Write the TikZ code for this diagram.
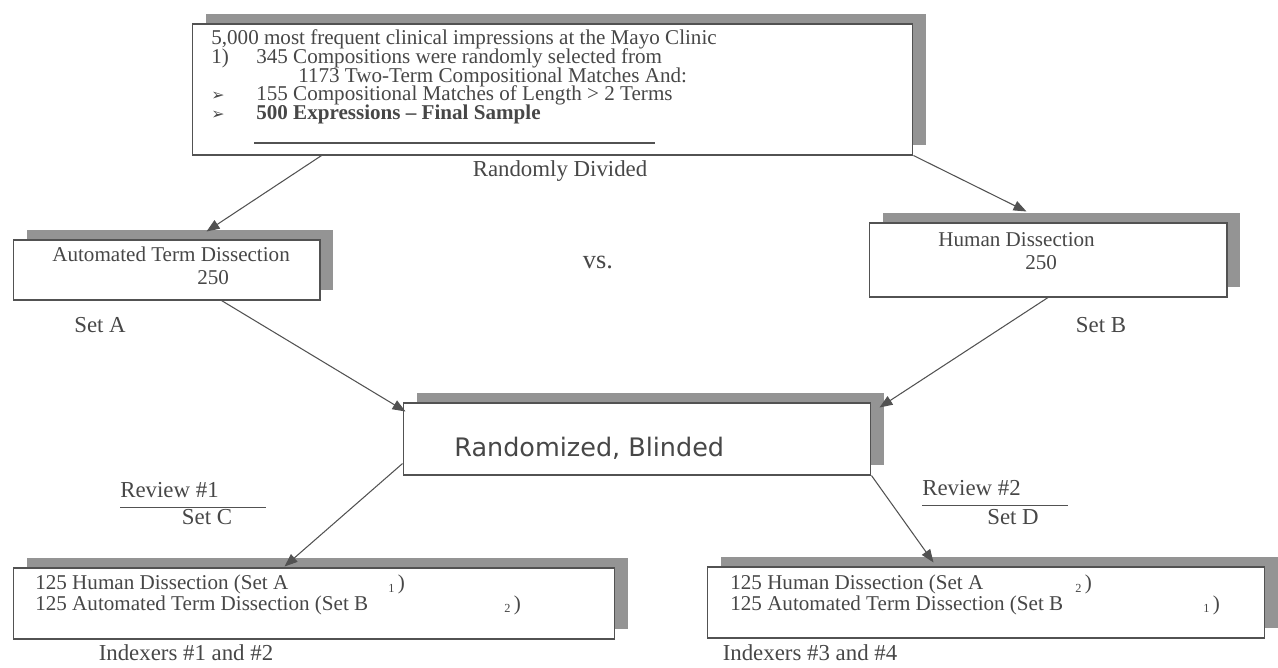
\documentclass[tikz,border=0pt]{standalone}
\usepackage{fontspec}
\setmainfont{Liberation Serif}
\newfontfamily\dingfont{DejaVu Sans}
\newfontfamily\boxsans{DejaVu Sans}
\usetikzlibrary{shadows,arrows.meta,calc}

\newcommand{\setidx}[1]{{\fontsize{7}{7}\selectfont\raisebox{-1.5pt}{#1}}\,}

\begin{document}
\begin{tikzpicture}[x=0.02cm,y=-0.02cm,
    panel/.style={draw=black!68, line width=0.6pt, fill=white, inner sep=0pt,
      drop shadow={shadow xshift=0.27cm, shadow yshift=0.2cm, fill=black!42, opacity=1}},
    txt/.style={text=black!72, inner sep=0pt, font={\fontsize{12}{13}\selectfont}},
    lbl/.style={text=black!72, inner sep=0pt, font={\fontsize{13}{14}\selectfont}},
    rule/.style={draw=black!68, line width=0.6pt},
    link/.style={draw=black!68, line width=0.6pt, -{Triangle[length=0.26cm,width=0.2cm]}}]
  \useasboundingbox (0,0) rectangle (1278,667);

  \node[panel, minimum width=14.42cm, minimum height=2.62cm] (sample) at (552.5,89.5) {};
  \node[panel, minimum width=6.14cm, minimum height=1.2cm] (autoset) at (166.5,270) {};
  \node[panel, minimum width=7.16cm, minimum height=1.48cm] (humanset) at (1048,260) {};
  \node[panel, minimum width=9.36cm, minimum height=1.44cm] (blind) at (637,439) {};
  \node[panel, minimum width=12.04cm, minimum height=1.42cm] (reviewc) at (314,603.5) {};
  \node[panel, minimum width=11.16cm, minimum height=1.42cm] (reviewd) at (986,602.5) {};

  \node[txt, anchor=west, align=left, font={\fontsize{12}{10.6}\selectfont\lineskiplimit=-5pt}] (sampletext) at (211,77)
    {5,000 most frequent clinical impressions at the Mayo Clinic\\
     \makebox[0.9cm][l]{1)}345 Compositions were randomly selected from\\
     \hspace{1.74cm}1173 Two-Term Compositional Matches And:\\
     \makebox[0.9cm][l]{\dingfont\small ➢}155 Compositional Matches of Length > 2 Terms\\
     \makebox[0.9cm][l]{\dingfont\small ➢}\textbf{500 Expressions – Final Sample}};
  \draw[rule] (254,143) -- (655,143);

  \node[txt, anchor=west, align=left] (autotext) at (52,266) {Automated Term Dissection\\\hspace{2.9cm}250};
  \node[txt, anchor=west, align=left] (humantext) at (938,251.5) {Human Dissection\\\hspace{1.74cm}250};
  \node[txt, anchor=west, font={\boxsans\fontsize{14.5}{16}\selectfont}] (blindtext) at (454,448) {Randomized, Blinded};

  \node[txt, anchor=west, align=left, font={\fontsize{12}{11.6}\selectfont\lineskiplimit=-5pt}] (reviewctext) at (35,595)
    {\makebox[7.06cm][l]{125 Human Dissection (Set A}\setidx{1})\\
     \makebox[9.38cm][l]{125 Automated Term Dissection (Set B}\setidx{2})};
  \node[txt, anchor=west, align=left, font={\fontsize{12}{11.6}\selectfont\lineskiplimit=-5pt}] (reviewdtext) at (730,595)
    {\makebox[6.9cm][l]{125 Human Dissection (Set A}\setidx{2})\\
     \makebox[9.46cm][l]{125 Automated Term Dissection (Set B}\setidx{1})};

  \node[lbl] (divided) at (560,171) {Randomly Divided};
  \node[lbl, font={\fontsize{15}{16}\selectfont}] (versus) at (598,262) {vs.};
  \node[lbl] (seta) at (100,325) {Set A};
  \node[lbl] (setb) at (1101,325) {Set B};
  \node[lbl, anchor=west] (review1) at (120,490) {Review \#1};
  \node[lbl] (setc) at (207,517) {Set C};
  \node[lbl, anchor=west] (review2) at (922,488) {Review \#2};
  \node[lbl] (setd) at (1013,517) {Set D};
  \node[lbl] (indexers1) at (186,653) {Indexers \#1 and \#2};
  \node[lbl] (indexers2) at (810,653) {Indexers \#3 and \#4};
  \draw[rule] ($(review1.south west)+(0,9)$) -- +(146,0);
  \draw[rule] ($(review2.south west)+(0,9)$) -- +(146,0);

  \draw[link] ($(sample.south west)+(130,0)$) -- ($(autoset.north west)+(194,-8)$);
  \draw[link] (sample.south east) -- ($(humanset.north west)+(158,-11)$);
  \draw[link] ($(autoset.south west)+(209,0)$) -- ($(blind.north west)+(3,9)$);
  \draw[link] (humanset.south) -- ($(blind.north east)+(8,5)$);
  \draw[link] ($(blind.south west)+(0,-12)$) -- ($(reviewc.north west)+(272,-1)$);
  \draw[link] (blind.south east) -- ($(reviewd.north west)+(227,-4)$);
\end{tikzpicture}
\end{document}
